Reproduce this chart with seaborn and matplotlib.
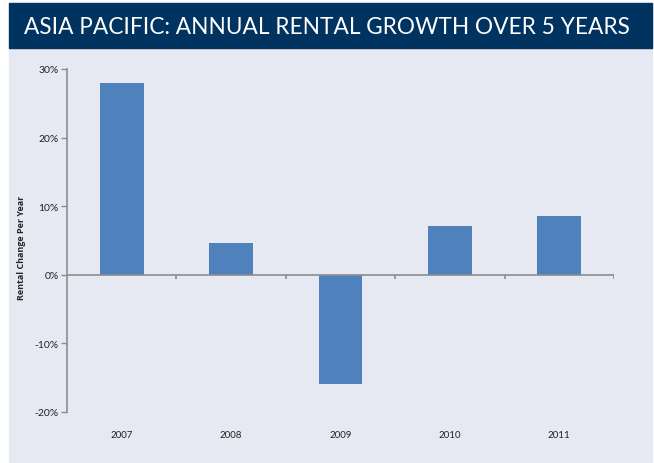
import matplotlib
matplotlib.use('Agg')
import matplotlib.pyplot as plt
import matplotlib.patches as patches
from matplotlib.ticker import PercentFormatter, FixedLocator
import pandas as pd
import seaborn as sns

# chart data
years = ['2007', '2008', '2009', '2010', '2011']
rental_change = [28.0, 4.6, -15.9, 7.1, 8.6]

title = 'ASIA PACIFIC: ANNUAL RENTAL GROWTH OVER 5 YEARS'
ylabel = 'Rental Change Per Year'

bar_color = '#4F81BD'
panel_bg = '#E6E8F2'
banner_color = '#00335F'
axis_grey = '#8C8C8C'

df = pd.DataFrame({'year': years, 'change': rental_change})

sns.set_style('white')
plt.rcParams['font.family'] = ['Lato', 'DejaVu Sans']
plt.rcParams['axes.unicode_minus'] = False

fig = plt.figure(figsize=(6.54, 4.64), dpi=100)
fig.patch.set_facecolor('white')

# light panel behind the chart and the dark title banner
fig.patches.append(patches.Rectangle((9 / 654, 0), 643 / 654, (464 - 49) / 464,
                                     transform=fig.transFigure, color=panel_bg, zorder=-2))
fig.patches.append(patches.Rectangle((9 / 654, (464 - 49) / 464), 643 / 654, 45 / 464,
                                     transform=fig.transFigure, color=banner_color, zorder=-2))
fig.text(24 / 654, (464 - 27) / 464, title, color='white', fontsize=16.3,
         va='center', ha='left')

ax = fig.add_axes([67 / 654, 51 / 464, 547 / 654, 343 / 464])
ax.set_facecolor('none')

sns.barplot(data=df, x='year', y='change', color=bar_color, width=0.4,
            saturation=1, linewidth=0, ax=ax, zorder=3)

ax.set_xlim(-0.5, len(years) - 0.5)
ax.set_ylim(-20, 30)
ax.yaxis.set_major_locator(FixedLocator([-20, -10, 0, 10, 20, 30]))
ax.yaxis.set_major_formatter(PercentFormatter(decimals=0))

# zero line with small ticks at category boundaries
ax.axhline(0, color=axis_grey, lw=1.2, zorder=4)
ax.vlines([i + 0.5 for i in range(len(years))], -0.6, 0, color=axis_grey, lw=1.2, zorder=4)

for side in ['top', 'right', 'bottom']:
    ax.spines[side].set_visible(False)
ax.spines['left'].set_color(axis_grey)
ax.spines['left'].set_linewidth(1.2)

ax.tick_params(axis='y', length=4, width=1, color=axis_grey, labelsize=7.5,
               labelcolor='#222222', left=True, pad=2)
ax.tick_params(axis='x', length=0, labelsize=7, labelcolor='#222222', pad=13)

ax.set_xlabel('')
ax.set_ylabel(ylabel, fontsize=6.5, fontweight='bold', family=['Open Sans', 'DejaVu Sans'],
              labelpad=6)
ax.yaxis.set_label_coords(-0.075, 0.48)

fig.savefig('out.png', dpi=100)
